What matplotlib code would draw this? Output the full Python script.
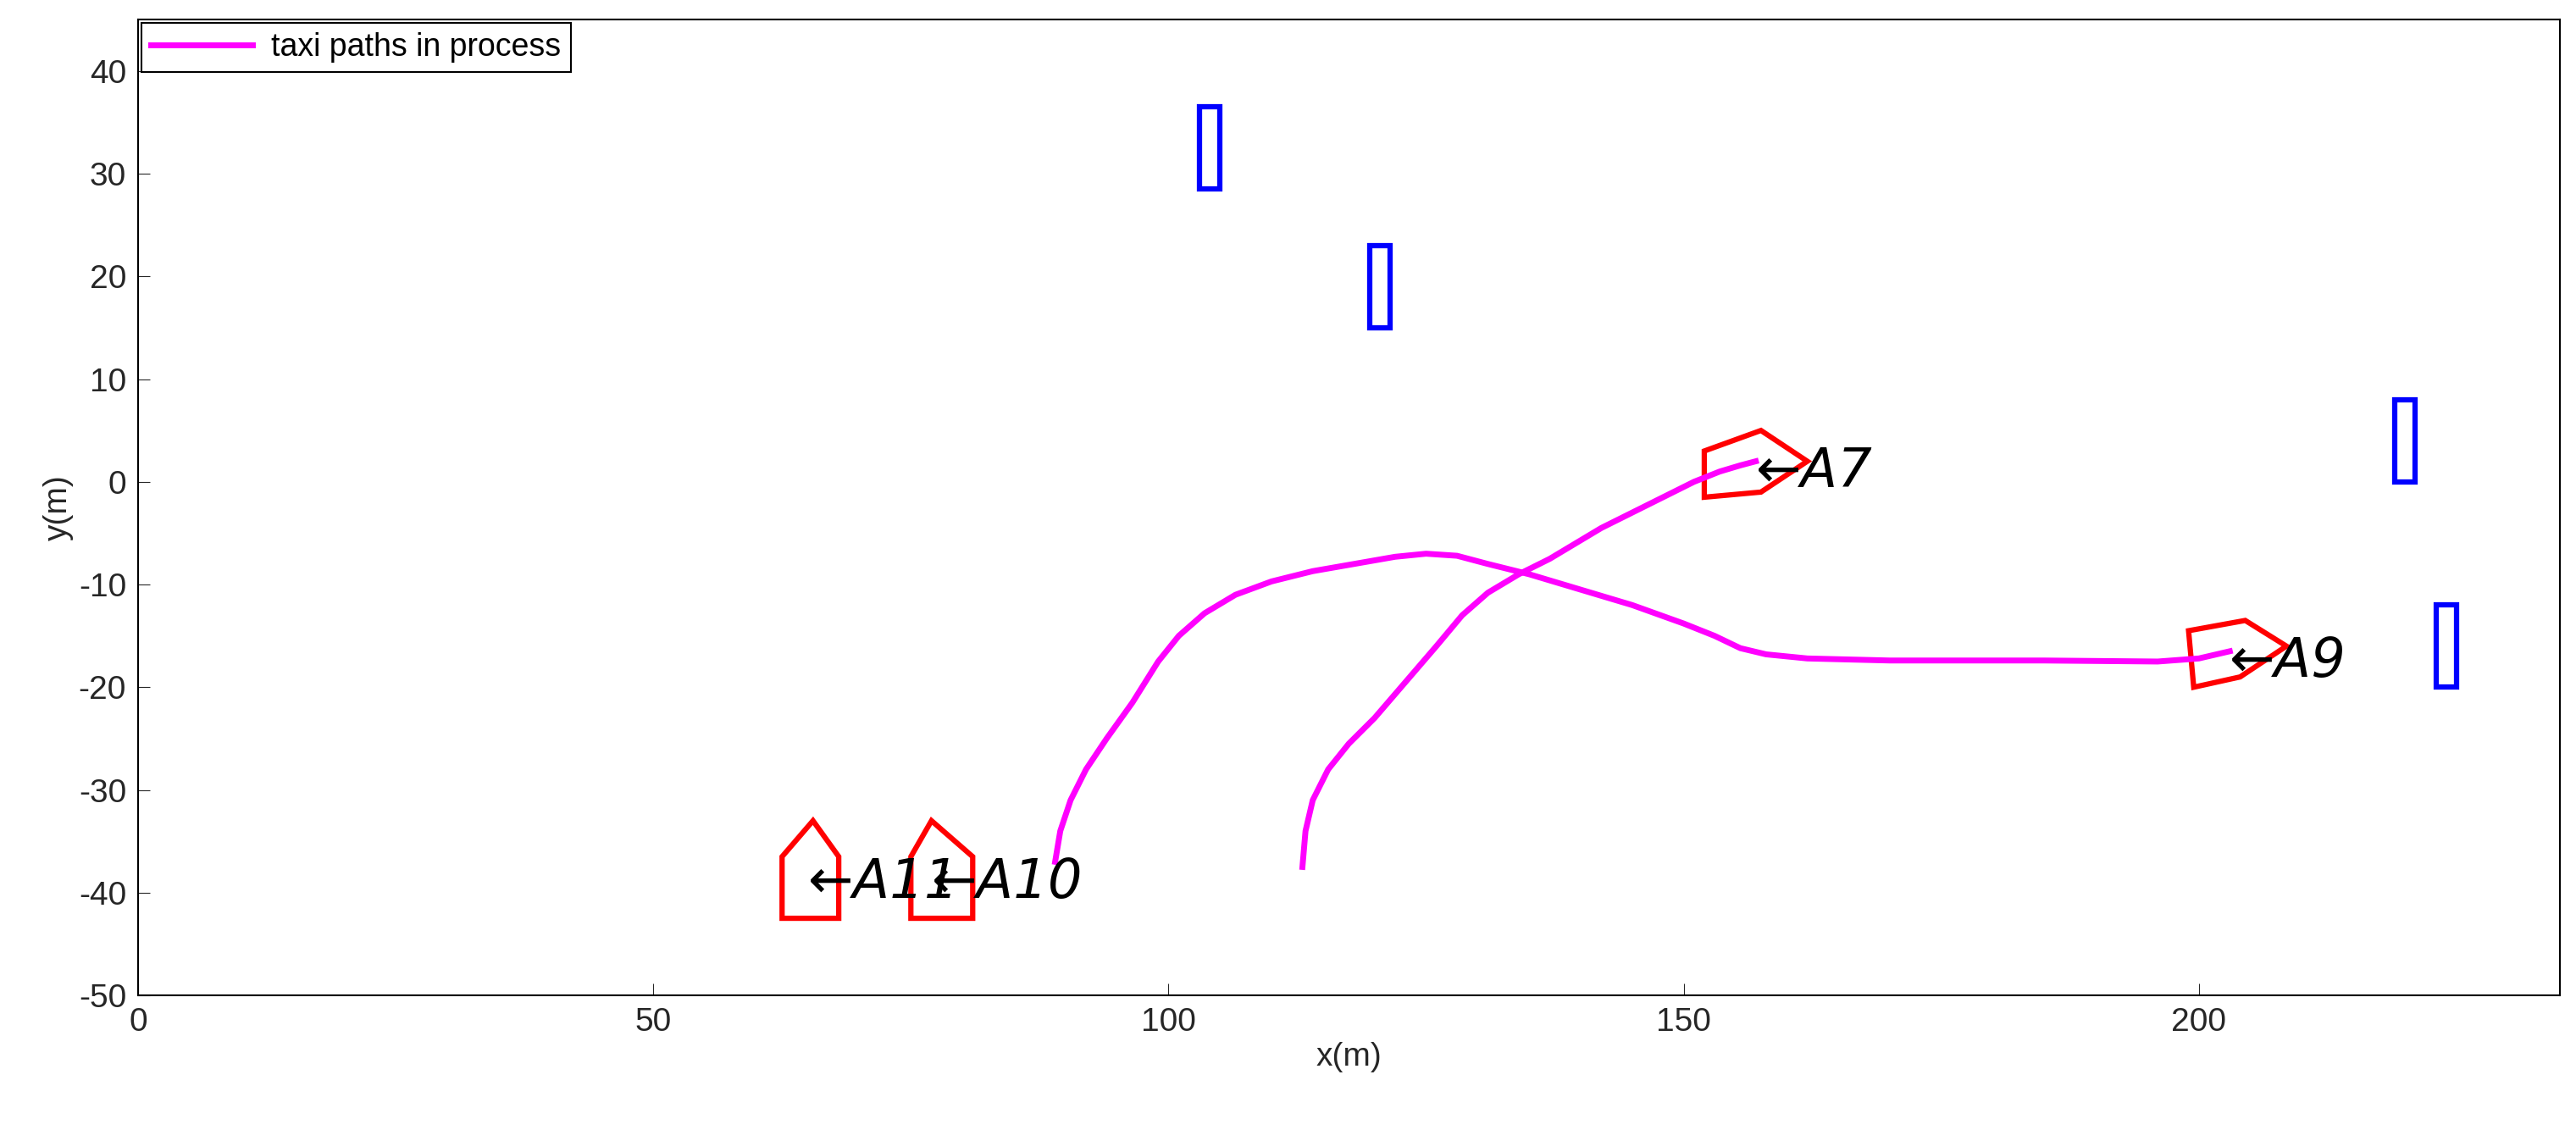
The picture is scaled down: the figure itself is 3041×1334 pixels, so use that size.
import matplotlib
matplotlib.use("Agg")
import matplotlib.pyplot as plt
from matplotlib.patches import Polygon, Rectangle

plt.rcParams['font.family'] = ['Liberation Sans', 'DejaVu Sans']
plt.rcParams['axes.unicode_minus'] = False

path1_x = [89, 89.5, 90.5, 92, 94, 96.5, 99, 101, 103.5, 106.5, 110, 114, 118, 122, 125, 128, 131, 135, 140, 145, 150, 153, 155.5, 158, 162, 170, 185, 196, 200, 203]
path1_y = [-37, -34, -31, -28, -25, -21.5, -17.5, -15, -12.8, -11, -9.7, -8.7, -8, -7.3, -7, -7.2, -8, -9, -10.5, -12, -13.8, -15, -16.2, -16.8, -17.2, -17.4, -17.4, -17.5, -17.2, -16.5]
path2_x = [113, 113.3, 114, 115.5, 117.5, 120, 123, 126, 128.5, 131, 134, 137, 142, 147, 151, 153.5, 155.5, 157]
path2_y = [-37.5, -34, -31, -28, -25.5, -23, -19.5, -16, -13, -10.8, -9, -7.5, -4.5, -2, 0, 1, 1.6, 2]

obstacles = [(103, 28.5, 2, 8), (119.5, 15, 2, 8), (219, 0, 2, 8), (223, -20, 2, 8)]

ships = {
    "A7": [(152, 3), (157.5, 5), (162, 2), (157.5, -1), (152, -1.5)],
    "A9": [(199, -14.5), (204.5, -13.5), (208.5, -16), (204, -19), (199.5, -20)],
    "A10": [(75, -42.5), (81, -42.5), (81, -36.5), (77, -33), (75, -36.5)],
    "A11": [(62.5, -42.5), (68, -42.5), (68, -36.5), (65.5, -33), (62.5, -36.5)],
}
label_pos = {"A7": (157, 1), "A9": (203, -17.5), "A10": (77, -39), "A11": (65, -39)}

fig = plt.figure(figsize=(30.41, 13.34), dpi=100)
ax = fig.add_axes([0.0536, 0.1192, 0.94, 0.8634])
ax.plot(path1_x, path1_y, color="magenta", lw=5, label="taxi paths in process")
ax.plot(path2_x, path2_y, color="magenta", lw=5)
for x, y, w, h in obstacles:
    ax.add_patch(Rectangle((x, y), w, h, fill=False, edgecolor="blue", lw=4.5))
for name, pts in ships.items():
    ax.add_patch(Polygon(pts, closed=True, fill=False, edgecolor="red", lw=4.5))
    px, py = label_pos[name]
    ax.text(px, py, "\u2190" + name, fontsize=46, style="italic", va="center", ha="left",
            family=['DejaVu Sans'])
ax.set_xlim(0, 235)
ax.set_ylim(-50, 45)
ax.set_xticks([0, 50, 100, 150, 200])
ax.set_yticks(range(-50, 41, 10))
ax.tick_params(labelsize=28, direction="in", length=10, colors="#262626", pad=10)
ax.set_xlabel("x(m)", fontsize=28, color="#262626")
ax.set_ylabel("y(m)", fontsize=28, color="#262626")
for s in ax.spines.values():
    s.set_linewidth(1.5)
ax.legend(loc="upper left", fontsize=27, fancybox=False, edgecolor="black",
          borderaxespad=0.1, handlelength=3.2, framealpha=1, borderpad=0.3,
          handletextpad=0.6, labelspacing=0.2)
leg = ax.get_legend()
leg.get_frame().set_linewidth(1.5)
fig.savefig("out.png")
